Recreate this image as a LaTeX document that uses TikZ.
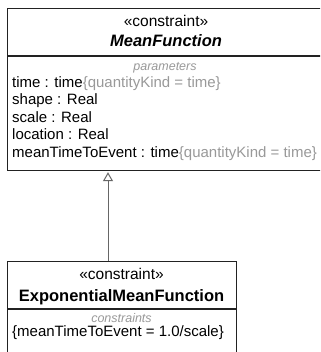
\documentclass[tikz,border=0pt]{standalone}
\usepackage{fontspec}
\setmainfont{Liberation Sans}
\usetikzlibrary{arrows.meta}
\definecolor{boxline}{HTML}{222222}
\definecolor{graytxt}{HTML}{999999}
\definecolor{linegray}{HTML}{666666}
\tikzset{
  umlbox/.style={draw=boxline, line width=1.2pt, fill=white, rectangle, inner sep=0pt, anchor=north west},
  divline/.style={draw=boxline, line width=1.2pt},
  stereo/.style={anchor=base, inner sep=0pt, font=\fontsize{15.5}{17}\selectfont},
  titlebf/.style={anchor=base, inner sep=0pt, font=\fontsize{16.5}{19}\selectfont\bfseries},
  complabel/.style={anchor=base, inner sep=0pt, text=graytxt, font=\fontsize{12.5}{15}\selectfont\itshape},
  attr/.style={anchor=base west, inner sep=0pt, font=\fontsize{15}{17.5}\selectfont},
  gen/.style={draw=linegray, line width=1pt, -{Triangle[open, width=10pt, length=9pt, fill=white]}}
}
\begin{document}
\begin{tikzpicture}[x=1pt, y=-1pt]
\clip (0,0) rectangle (320,352);
\fill[white] (0,0) rectangle (320,352);
% top box
\node[umlbox, minimum width=318pt, minimum height=162pt] (mf) at (7,8) {};
\draw[divline] (7,56) -- (325,56);
\node[stereo] (mfst) at (166,26.5) {«constraint»};
\node[titlebf] (mfti) at (166,47) {\itshape MeanFunction};
\node[complabel] (mfpar) at (165,70.5) {parameters};
\node[attr] (a1) at (12,87.5) {time : time\textcolor{graytxt}{\{quantityKind = time\}}};
\node[attr] (a2) at (12,105) {shape : Real};
\node[attr] (a3) at (12,122.5) {scale : Real};
\node[attr] (a4) at (12,140) {location : Real};
\node[attr] (a5) at (12,157.5) {meanTimeToEvent : time\textcolor{graytxt}{\{quantityKind = time\}}};
% bottom box
\node[umlbox, minimum width=229pt, minimum height=110pt] (emf) at (7,261) {};
\draw[divline] (7,309) -- (236,309);
\node[stereo] (emfst) at (121.5,279) {«constraint»};
\node[titlebf] (emfti) at (121.5,301) {ExponentialMeanFunction};
\node[complabel] (emfcon) at (121.5,322.5) {constraints};
\node[attr] (c1) at (12,336.5) {\{meanTimeToEvent = 1.0/scale\}};
% generalization
\coordinate (ax) at (108,0);
\draw[gen] (emf.north -| ax) -- ([yshift=-1pt]mf.south -| ax);
\end{tikzpicture}
\end{document}
